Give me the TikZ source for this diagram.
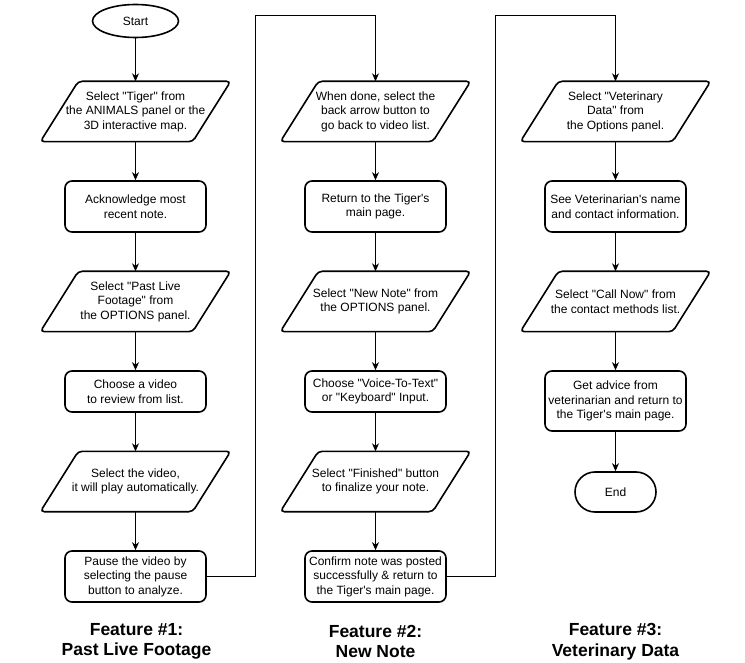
\documentclass[tikz,border=0pt]{standalone}
\usepackage{fontspec}
\setmainfont{Liberation Sans}[Ligatures=TeXOff]
\usetikzlibrary{arrows.meta,shapes.geometric}

\begin{document}
\begin{tikzpicture}[x=1pt,y=-1pt,
  every node/.style={font=\fontsize{12}{14.5}\selectfont, align=center, inner sep=0pt, text=black},
  outline/.style={draw, line width=1.6pt},
  stepbox/.style={outline, rounded corners=7pt, minimum width=141pt, minimum height=#1},
  stepbox/.default=51pt,
  iobox/.style={minimum width=152pt, minimum height=60pt},
  ioedge/.style={line width=1.6pt, rounded corners=4pt},
  flow/.style={line width=1pt, -{Stealth[length=8pt,width=7pt,inset=2.5pt]}},
  title/.style={font=\bfseries\fontsize{17.5}{20.5}\selectfont},
]
\useasboundingbox (0,0) rectangle (745,663);

% ---------- Feature 1 ----------
\node[outline, ellipse, minimum width=86pt, minimum height=33pt] (start) at (135.5,21) {Start};
\node[iobox] (p1a) at (135.5,111.5) {Select "Tiger" from\\the ANIMALS panel or the\\3D interactive map.};
\node[stepbox] (r2a) at (135.5,206.5) {Acknowledge most\\recent note.};
\node[iobox] (p3a) at (135.5,301.5) {Select "Past Live\\Footage" from\\the OPTIONS panel.};
\node[stepbox=41pt] (r4a) at (135.5,391.5) {Choose a video\\to review from list.};
\node[iobox] (p5a) at (135.5,481.5) {Select the video,\\it will play automatically.};
\node[stepbox] (r6a) at (135.5,576.5) {Pause the video by\\selecting the pause\\button to analyze.};
\node[title] (t1) at (136.5,641.5) {Feature \#1:\\Past Live Footage};

% ---------- Feature 2 ----------
\node[iobox] (p1b) at (375.5,111.5) {When done, select the\\back arrow button to\\go back to video list.};
\node[stepbox] (r2b) at (375.5,206.5) {Return to the Tiger's\\main page.};
\node[iobox] (p3b) at (375.5,301.5) {Select "New Note" from\\the OPTIONS panel.};
\node[stepbox=41pt] (r4b) at (375.5,391.5) {Choose "Voice-To-Text"\\or "Keyboard" Input.};
\node[iobox] (p5b) at (375.5,481.5) {Select "Finished" button\\to finalize your note.};
\node[stepbox] (r6b) at (375.5,576.5) {Confirm note was posted\\successfully \& return to\\the Tiger's main page.};
\node[title] (t2) at (375.5,641.5) {Feature \#2:\\New Note};

% ---------- Feature 3 ----------
\node[iobox] (p1c) at (615.5,111.5) {Select "Veterinary\\Data" from\\the Options panel.};
\node[stepbox] (r2c) at (615.5,206.5) {See Veterinarian's name\\and contact information.};
\node[iobox] (p3c) at (615.5,301.5) {Select "Call Now" from\\the contact methods list.};
\node[stepbox=60pt] (r4c) at (615.5,401) {Get advice from\\veterinarian and return to\\the Tiger's main page.};
\node[outline, rounded corners=20pt, minimum width=81pt, minimum height=40pt] (end) at (615.5,492) {End};
\node[title] (t3) at (615.5,641.5) {Feature \#3:\\Veterinary Data};

% slanted input/output outlines
\foreach \n in {p1a,p3a,p5a,p1b,p3b,p5b,p1c,p3c}
  \draw[ioedge] ([xshift=19pt]\n.north west) -- ([xshift=19pt]\n.north east)
    -- ([xshift=-19pt]\n.south east) -- ([xshift=-19pt]\n.south west) -- cycle;

% vertical flow
\draw[flow] (start) -- (p1a);
\draw[flow] (p1a) -- (r2a);
\draw[flow] (r2a) -- (p3a);
\draw[flow] (p3a) -- (r4a);
\draw[flow] (r4a) -- (p5a);
\draw[flow] (p5a) -- (r6a);

\draw[flow] (p1b) -- (r2b);
\draw[flow] (r2b) -- (p3b);
\draw[flow] (p3b) -- (r4b);
\draw[flow] (r4b) -- (p5b);
\draw[flow] (p5b) -- (r6b);

\draw[flow] (p1c) -- (r2c);
\draw[flow] (r2c) -- (p3c);
\draw[flow] (p3c) -- (r4c);
\draw[flow] (r4c) -- (end);

% links between features
\coordinate (k1) at (255.5,16);
\coordinate (k2) at (495.5,16);
\draw[flow] (r6a.east) -| (k1) -| (p1b.north);
\draw[flow] (r6b.east) -| (k2) -| (p1c.north);
\end{tikzpicture}
\end{document}
